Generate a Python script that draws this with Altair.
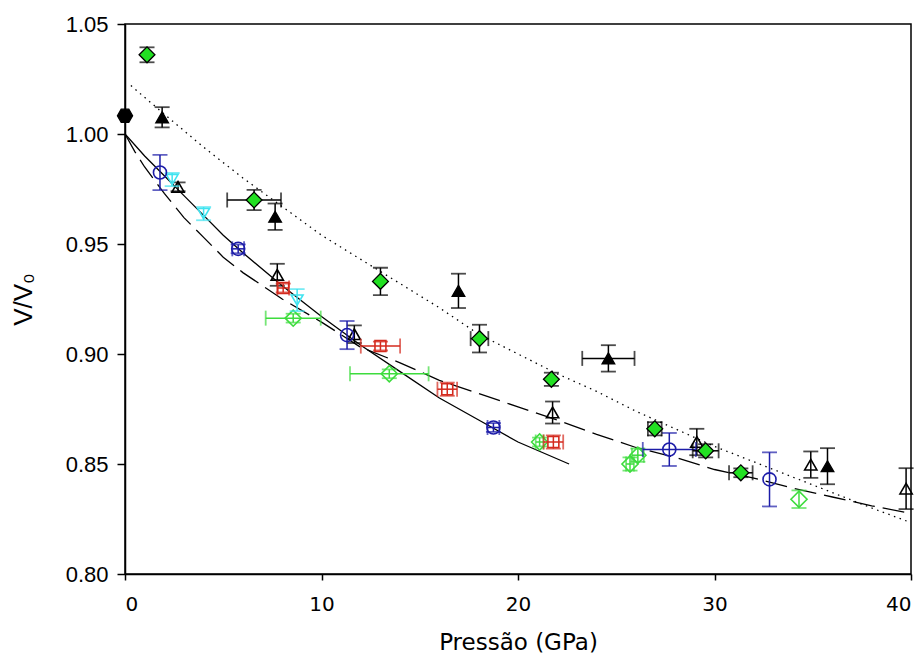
import altair as alt
import pandas as pd

# ---- fitted equation-of-state curves (pressure in GPa, V/V0) ----
solid_x = [0, 1, 2, 3, 4, 5, 6, 8, 10, 12, 14, 16, 18, 20, 22.6]
solid_y = [1.000, 0.990, 0.981, 0.972, 0.963, 0.954, 0.946, 0.931, 0.917,
           0.904, 0.892, 0.880, 0.870, 0.860, 0.850]

dashed_x = [0, 0.5, 1, 2, 3, 4, 5, 6, 7, 8, 10, 12, 14, 16, 18, 20, 22, 24,
            26, 28, 30, 32, 34, 36, 38, 39.7]
dashed_y = [1.000, 0.992, 0.985, 0.973, 0.962, 0.953, 0.944, 0.937, 0.931,
            0.925, 0.9145, 0.903, 0.896, 0.888, 0.882, 0.876, 0.870, 0.8635,
            0.8575, 0.853, 0.8475, 0.8436, 0.839, 0.835, 0.831, 0.828]

dotted_x = [0.3, 2, 4, 6, 8, 10, 12, 14, 16, 18, 20, 22, 24, 26, 28, 30, 32,
            34, 36, 38, 39.8]
dotted_y = [1.022, 1.009, 0.994, 0.980, 0.967, 0.954, 0.943, 0.932, 0.921,
            0.909, 0.900, 0.891, 0.883, 0.874, 0.866, 0.858, 0.851, 0.844,
            0.837, 0.830, 0.824]

# ---- experimental data sets ----
hex_x = [0.0]
hex_y = [1.0083]

gd_x = [1.12, 6.57, 13.0, 18.04, 21.7, 26.96, 29.55, 31.34]
gd_y = [1.036, 0.970, 0.933, 0.907, 0.8885, 0.866, 0.856, 0.846]
gd_xerr = [0, 1.37, 0, 0.45, 0, 0.35, 0.66, 0.6]
gd_yerr = [0.0034, 0.0046, 0.0062, 0.0063, 0.003, 0.003, 0.003, 0.002]

bt_x = [1.89, 7.64, 16.97, 24.6, 35.75]
bt_y = [1.0076, 0.9624, 0.9287, 0.898, 0.849]
bt_xerr = [0, 0, 0, 1.33, 0]
bt_yerr = [0.0046, 0.006, 0.0078, 0.006, 0.0082]

ot_x = [2.7, 7.75, 11.67, 21.76, 29.1, 34.9, 39.75]
ot_y = [0.976, 0.936, 0.909, 0.8734, 0.860, 0.8497, 0.8388]
ot_xerr = [0, 0, 0, 0, 0, 0, 0]
ot_yerr = [0.002, 0.005, 0.004, 0.005, 0.006, 0.006, 0.0093]

bc_x = [1.78, 5.76, 11.3, 18.75, 27.7, 32.8]
bc_y = [0.9825, 0.9478, 0.9086, 0.8666, 0.8566, 0.843]
bc_xerr = [0, 0.3, 0, 0.3, 1.35, 0]
bc_yerr = [0.008, 0.002, 0.0064, 0.002, 0.0075, 0.0123]

ct_x = [2.4, 4.0, 8.76]
ct_y = [0.9793, 0.9638, 0.9245]
ct_xerr = [0, 0, 0]
ct_yerr = [0.003, 0.003, 0.005]

rs_x = [8.05, 13.0, 16.4, 21.8]
rs_y = [0.930, 0.9036, 0.884, 0.860]
rs_xerr = [0.3, 1.0, 0.5, 0.5]
rs_yerr = [0.002, 0.002, 0.003, 0.003]

lg_x = [8.56, 13.45, 21.1, 25.7, 26.1, 34.3]
lg_y = [0.9163, 0.891, 0.860, 0.850, 0.854, 0.834]
lg_xerr = [1.4, 2.0, 0.2, 0.2, 0.3, 0]
lg_yerr = [0.002, 0.002, 0.002, 0.003, 0.003, 0.004]

HEXAGON = "M-1,0L-0.5,-0.866L0.5,-0.866L1,0L0.5,0.866L-0.5,0.866Z"

series = [
    dict(x=ot_x, y=ot_y, xe=ot_xerr, ye=ot_yerr, shape="triangle-up",
         size=150, filled=False, color="#000000", fill="#000000"),
    dict(x=lg_x, y=lg_y, xe=lg_xerr, ye=lg_yerr, shape="diamond",
         size=260, filled=False, color="#3ddc3d", fill="#3ddc3d"),
    dict(x=rs_x, y=rs_y, xe=rs_xerr, ye=rs_yerr, shape="square",
         size=120, filled=False, color="#d42a1e", fill="#d42a1e"),
    dict(x=ct_x, y=ct_y, xe=ct_xerr, ye=ct_yerr, shape="triangle-down",
         size=140, filled=False, color="#3fe3f0", fill="#3fe3f0"),
    dict(x=bc_x, y=bc_y, xe=bc_xerr, ye=bc_yerr, shape="circle",
         size=170, filled=False, color="#1c1ca8", fill="#1c1ca8"),
    dict(x=bt_x, y=bt_y, xe=bt_xerr, ye=bt_yerr, shape="triangle-up",
         size=160, filled=True, color="#000000", fill="#000000"),
    dict(x=gd_x, y=gd_y, xe=gd_xerr, ye=gd_yerr, shape="diamond",
         size=250, filled=True, color="#000000", fill="#22e022"),
    dict(x=hex_x, y=hex_y, xe=[0], ye=[0], shape=HEXAGON,
         size=230, filled=True, color="#000000", fill="#000000"),
]

xs = alt.Scale(domain=[0, 40], nice=False, zero=False)
ys = alt.Scale(domain=[0.80, 1.05], nice=False, zero=False)

x_axis = alt.Axis(values=[0, 10, 20, 30, 40], format="d", tickSize=6,
                  labelFont="DejaVu Sans", labelFontSize=20, labelPadding=14,
                  titleFont="DejaVu Sans", titleFontSize=23,
                  titleFontWeight="normal", titlePadding=17)
y_axis = alt.Axis(values=[0.80, 0.85, 0.90, 0.95, 1.00, 1.05], format=".2f",
                  tickSize=8, labelFont="Liberation Sans", labelFontSize=22,
                  labelPadding=9, titleFont="Liberation Sans", titleFontSize=26,
                  titleFontWeight="normal", titlePadding=29)


def X(field):
    return alt.X(field, type="quantitative", scale=xs, axis=x_axis,
                 title="Pressão (GPa)")


def Y(field):
    return alt.Y(field, type="quantitative", scale=ys, axis=y_axis,
                 title="V/V₀")


def curve(xv, yv, dash):
    df = pd.DataFrame({"x": xv, "y": yv})
    kw = dict(color="black", strokeWidth=1.3, clip=True)
    if dash:
        kw["strokeDash"] = dash
    return alt.Chart(df).mark_line(**kw).encode(x=X("x"), y=Y("y"))


layers = [
    curve(solid_x, solid_y, None),
    curve(dashed_x, dashed_y, [22, 8]),
    curve(dotted_x, dotted_y, [1.5, 4.5]),
]

CAP = 15
for s in series:
    df = pd.DataFrame({"x": s["x"], "y": s["y"], "xe": s["xe"], "ye": s["ye"]})
    df["ylo"] = df["y"] - df["ye"]
    df["yhi"] = df["y"] + df["ye"]
    df["xlo"] = df["x"] - df["xe"]
    df["xhi"] = df["x"] + df["xe"]
    base = alt.Chart(df)
    ydf = base.transform_filter("datum.ye > 0")
    xdf = base.transform_filter("datum.xe > 0")
    c = s["color"]
    layers += [
        ydf.mark_rule(color=c, strokeWidth=1.5).encode(
            x=X("x"), y=Y("ylo"), y2="yhi"),
        ydf.mark_tick(color=c, orient="horizontal", size=CAP, thickness=1.8).encode(
            x=X("x"), y=Y("ylo")),
        ydf.mark_tick(color=c, orient="horizontal", size=CAP, thickness=1.8).encode(
            x=X("x"), y=Y("yhi")),
        xdf.mark_rule(color=c, strokeWidth=1.5).encode(
            x=X("xlo"), x2="xhi", y=Y("y")),
        xdf.mark_tick(color=c, orient="vertical", size=CAP, thickness=1.8).encode(
            x=X("xlo"), y=Y("y")),
        xdf.mark_tick(color=c, orient="vertical", size=CAP, thickness=1.8).encode(
            x=X("xhi"), y=Y("y")),
    ]
    if s["filled"]:
        pt = base.mark_point(shape=s["shape"], size=s["size"], filled=True,
                             fill=s["fill"], fillOpacity=1, stroke="black",
                             strokeWidth=1.3, opacity=1)
    else:
        pt = base.mark_point(shape=s["shape"], size=s["size"], filled=False,
                             color=c, strokeWidth=1.6, opacity=1)
    layers.append(pt.encode(x=X("x"), y=Y("y")))

chart = (
    alt.layer(*layers)
    .properties(width=786, height=550, autosize="none",
                padding={"left": 125, "top": 24, "right": 13, "bottom": 83},
                background="white")
    .configure_view(stroke="black", strokeWidth=1.5)
    .configure_axis(grid=False, domainColor="black", domainWidth=1.5,
                    tickColor="black", tickWidth=1.5, labelColor="black",
                    titleColor="black")
)

chart.save("out.html", embed_options={"renderer": "svg", "actions": False})
